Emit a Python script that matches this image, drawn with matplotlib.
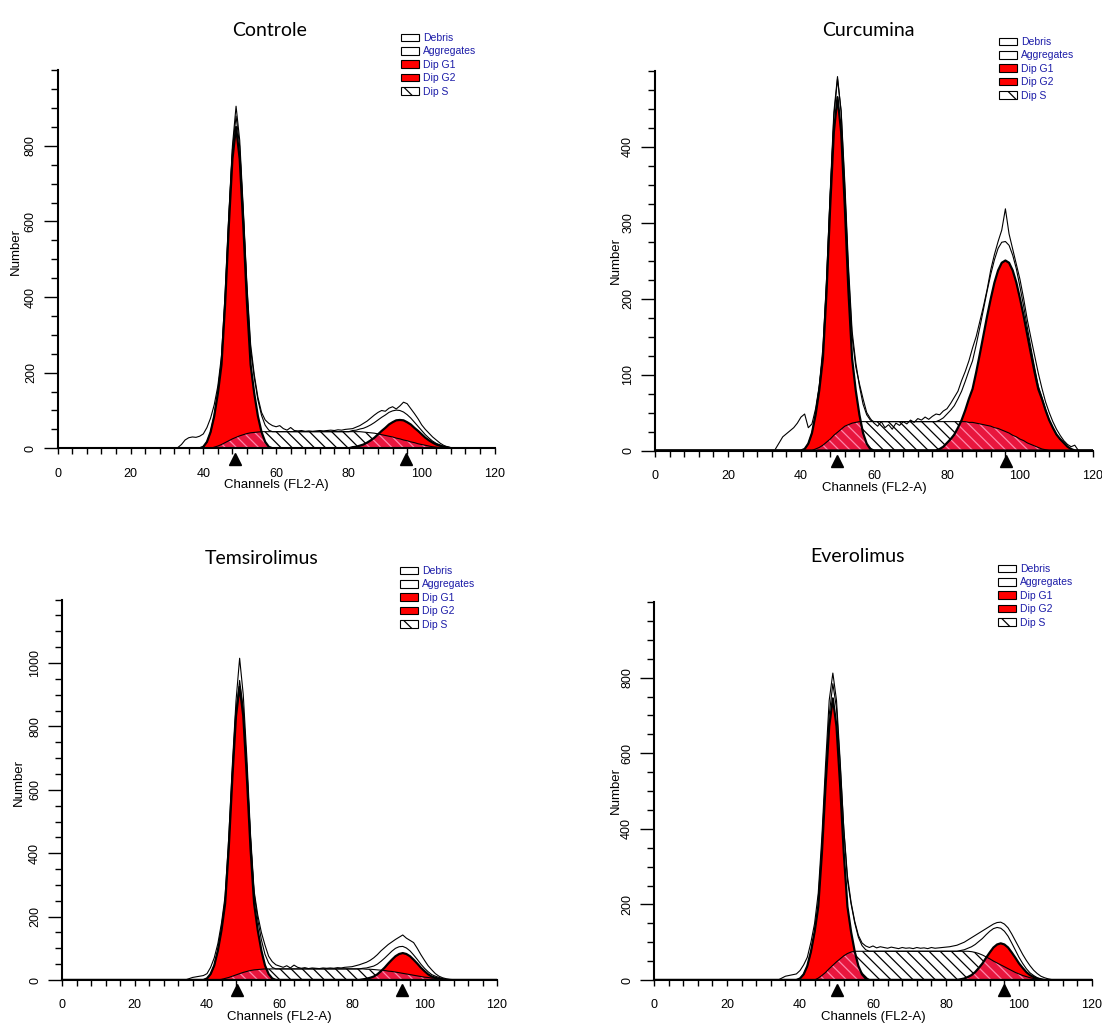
import numpy as np
import matplotlib.pyplot as plt
from matplotlib.patches import Patch
from matplotlib.ticker import MultipleLocator

plt.rcParams['font.family'] = ['Liberation Sans', 'DejaVu Sans']
plt.rcParams['hatch.linewidth'] = 0.9

# --- DATA (counts per channel) ---

channels = np.arange(0, 121)

# Controle
controle_data_start = 33
controle_data = [2, 10, 22, 28, 30, 29, 32, 38, 55, 80,
                 115, 165, 245, 410, 615, 800, 905, 815, 630, 430,
                 275, 195, 135, 95, 75, 66, 60, 57, 60, 52,
                 48, 55, 47, 46, 47, 45, 46, 45, 46, 47,
                 46, 47, 48, 47, 49, 48, 50, 51, 52, 56,
                 60, 66, 72, 80, 88, 95, 100, 98, 106, 110,
                 104, 112, 122, 118, 105, 92, 78, 62, 50, 40,
                 30, 22, 14, 8, 4, 2, 0]
controle_g1_start = 40
controle_g1 = [4, 17, 43, 85, 145, 221, 383, 587, 765, 850, 765, 587, 383, 221, 145, 85, 43, 17, 4]
controle_g2_start = 81
controle_g2 = [3, 4, 7, 10, 15, 21, 28, 37, 46, 54, 63, 69, 74, 75, 74, 69, 63, 54, 46, 37,
               28, 21, 15, 10, 7, 4, 3]
controle_s_start = 42
controle_s = [0, 3, 6, 10, 15, 20, 25, 29, 33, 36, 39, 41, 42, 43, 44,
              44, 44, 44, 44, 44, 44, 44, 44, 44, 44, 44, 44, 44, 44, 44, 44, 44, 44, 44, 44,
              44, 44, 44, 44, 44, 44, 44,
              43, 42, 41, 40, 38, 36, 34, 32, 30, 27, 25, 22, 20, 17, 15, 12, 10, 8, 6, 4,
              3, 2, 1, 0]
controle_marks = [48.7, 95.7]

# Curcumina
curcumina_data_start = 33
curcumina_data = [2, 10, 18, 22, 26, 30, 36, 44, 48, 30,
                  35, 55, 85, 135, 225, 340, 445, 492, 445, 345,
                  235, 150, 110, 88, 68, 50, 42, 36, 32, 38,
                  30, 34, 28, 36, 33, 38, 35, 40, 37, 42,
                  40, 44, 41, 45, 48, 47, 52, 55, 62, 70,
                  78, 92, 104, 118, 135, 150, 170, 190, 212, 238,
                  258, 275, 290, 318, 285, 265, 245, 225, 200, 172,
                  148, 125, 102, 82, 64, 50, 38, 28, 20, 13,
                  8, 5, 7, 0]
curcumina_g1_start = 41
curcumina_g1 = [2, 9, 23, 47, 79, 121, 209, 321, 419, 465, 419, 321, 209, 121, 79, 47, 23, 9, 2]
curcumina_g2_start = 78
curcumina_g2 = [2, 5, 10, 15, 21, 30, 40, 53, 68, 81, 103, 127, 152, 177, 200, 221, 237, 247,
                250, 247, 237, 221, 200, 177, 152, 127, 103, 81, 68, 53, 40, 30, 21, 15, 10, 5, 2]
curcumina_s_start = 43
curcumina_s = [0, 2, 4, 7, 11, 15, 20, 24, 28, 32, 34, 36, 37, 38,
               38, 38, 38, 38, 38, 38, 38, 38, 38, 38, 38, 38, 38, 38, 38, 38, 38, 38, 38, 38,
               38, 38, 38, 38, 38, 38, 38, 38,
               38, 37, 37, 36, 35, 34, 33, 32, 30,
               29, 27, 25, 23, 20, 18, 15, 13, 10, 8, 6, 4, 2, 1, 0]
curcumina_marks = [49.8, 96.3]

# Temsirolimus
temsirolimus_data_start = 34
temsirolimus_data = [0, 4, 8, 10, 12, 14, 20, 40, 70, 115,
                     180, 265, 450, 680, 880, 1015, 900, 700, 460, 280,
                     205, 150, 110, 75, 58, 48, 44, 40, 45, 38,
                     47, 40, 37, 39, 36, 38, 37, 36, 38, 37,
                     38, 37, 39, 38, 40, 41, 42, 45, 48, 52,
                     56, 62, 70, 80, 92, 102, 112, 120, 128, 135,
                     142, 132, 125, 118, 100, 80, 62, 45, 32, 20,
                     12, 7, 4, 2, 1, 0]
temsirolimus_g1_start = 40
temsirolimus_g1 = [5, 19, 46, 93, 157, 241, 416, 638, 833, 925, 833, 638, 416, 241, 157, 93, 46, 19, 5]
temsirolimus_g2_start = 83
temsirolimus_g2 = [2, 4, 7, 11, 18, 28, 39, 52, 64, 75, 82, 85, 82, 75, 64, 52, 39, 28, 18, 11, 7, 4, 2]
temsirolimus_s_start = 43
temsirolimus_s = [0, 2, 5, 8, 12, 16, 20, 24, 27, 30, 32, 33, 34,
                  35, 35, 35, 35, 35, 35, 35, 35, 35, 35, 35, 35, 35, 35, 35, 35, 35, 35, 35, 35,
                  35, 35, 35, 35, 35, 35, 35, 35,
                  34, 34, 33, 32, 31, 30, 28, 27, 25, 23, 21, 19, 17, 15, 13, 11, 9, 8, 6, 5,
                  4, 2, 1, 0]
temsirolimus_marks = [48.3, 93.7]

# Everolimus
everolimus_data_start = 34
everolimus_data = [0, 5, 10, 12, 14, 16, 25, 40, 60, 100,
                   150, 230, 380, 570, 740, 812, 740, 580, 400, 275,
                   205, 155, 118, 98, 90, 86, 90, 85, 88, 86,
                   84, 87, 85, 83, 86, 84, 85, 83, 86, 84,
                   85, 83, 86, 84, 85, 86, 87, 88, 90, 92,
                   96, 100, 106, 112, 118, 124, 130, 136, 142, 148,
                   152, 153, 148, 138, 122, 104, 86, 68, 52, 38,
                   26, 17, 10, 6, 3, 1, 0]
everolimus_g1_start = 40
everolimus_g1 = [4, 15, 37, 75, 127, 194, 335, 514, 671, 745, 671, 514, 335, 194, 127, 75, 37, 15, 4]
everolimus_g2_start = 84
everolimus_g2 = [2, 4, 8, 13, 21, 32, 44, 59, 73, 86, 94, 97, 94, 86, 73, 59, 44, 32, 21, 13, 8, 4, 2]
everolimus_s_start = 44
everolimus_s = [0, 5, 12, 20, 30, 39, 48, 56, 64, 70, 74, 76,
                76, 76, 76, 76, 76, 76, 76, 76, 76, 76, 76, 76, 76, 76, 76, 76, 76, 76, 76, 76,
                76, 76, 76, 76, 76, 76, 76, 76, 76, 76, 76,
                75, 73, 70, 66, 61, 56, 50, 45, 40, 35, 30, 25, 20, 16, 12, 9, 6, 4, 2, 0]
everolimus_marks = [50.0, 95.8]

titles = ['Controle', 'Curcumina', 'Temsirolimus', 'Everolimus']
y_max = [1000, 500, 1200, 1000]
y_major = [200, 100, 200, 200]
y_minor = [50, 25, 50, 50]
legend_labels = ['Debris', 'Aggregates', 'Dip G1', 'Dip G2', 'Dip S']

RED = '#ff0000'
OVERLAP_RED = '#e8163e'
OVERLAP_HATCH = '#ff86aa'
LEGEND_BLUE = '#1c1ca8'

W, H = 1102, 1024
fig = plt.figure(figsize=(W / 100, H / 100), dpi=100)

# layout in pixels: x at channel 0, x at channel 120, baseline y, top y
layout = [
    (57.7, 494.5, 448.3, 70.3),
    (655.0, 1093.0, 450.5, 70.5),
    (62.0, 497.0, 980.0, 599.6),
    (654.0, 1092.0, 980.0, 602.0),
]
title_pos = [(270, 30), (868, 31), (262, 559), (858, 557)]
legend_pos = [(401, 33), (999, 37), (400, 566), (998, 564)]
ylabel_pos = [(-0.082, 0.52), (-0.075, 0.5), (-0.085, 0.52), (-0.073, 0.5)]

panels = [
    (controle_data_start, controle_data, controle_g1_start, controle_g1,
     controle_g2_start, controle_g2, controle_s_start, controle_s, controle_marks),
    (curcumina_data_start, curcumina_data, curcumina_g1_start, curcumina_g1,
     curcumina_g2_start, curcumina_g2, curcumina_s_start, curcumina_s, curcumina_marks),
    (temsirolimus_data_start, temsirolimus_data, temsirolimus_g1_start, temsirolimus_g1,
     temsirolimus_g2_start, temsirolimus_g2, temsirolimus_s_start, temsirolimus_s, temsirolimus_marks),
    (everolimus_data_start, everolimus_data, everolimus_g1_start, everolimus_g1,
     everolimus_g2_start, everolimus_g2, everolimus_s_start, everolimus_s, everolimus_marks),
]


def on_grid(start, values):
    full = np.zeros(channels.size)
    full[start:start + len(values)] = values
    return full


for i, (d0, data, g10, g1, g20, g2, s0, s, marks) in enumerate(panels):
    x0, x1, yb, yt = layout[i]
    ax = fig.add_axes([x0 / W, 1 - yb / H, (x1 - x0) / W, (yb - yt) / H])

    g1f = on_grid(g10, g1)
    g2f = on_grid(g20, g2)
    sf = on_grid(s0, s)

    # S phase (hatched), then G1/G2 in red, overlap hatched in pink
    ax.fill_between(channels, 0, sf, facecolor='white', edgecolor='black',
                    hatch='\\\\\\', linewidth=0, zorder=1)
    ax.fill_between(channels, 0, g1f, facecolor=RED, linewidth=0, zorder=2)
    ax.fill_between(channels, 0, g2f, facecolor=RED, linewidth=0, zorder=2)
    for gf in (g1f, g2f):
        ax.fill_between(channels, 0, np.minimum(sf, gf), facecolor=OVERLAP_RED,
                        edgecolor=OVERLAP_HATCH, hatch='\\\\\\', linewidth=0, zorder=3)
    ax.plot(channels, sf, color='black', lw=0.8, zorder=4)
    ax.plot(channels, g1f, color='black', lw=1.6, zorder=5)
    ax.plot(channels, g2f, color='black', lw=1.6, zorder=5)

    # model sum and raw histogram
    fit = g1f + g2f + sf
    ax.plot(channels, fit, color='black', lw=0.8, zorder=6)
    ax.plot(channels[d0:d0 + len(data)], data, color='black', lw=0.8, zorder=7)

    # peak markers under the axis
    ax.plot(marks, [-0.027] * len(marks), transform=ax.get_xaxis_transform(),
            marker='^', ls='none', color='black', ms=8, clip_on=False, zorder=9)

    ax.set_xlim(0, 120)
    ax.set_ylim(0, y_max[i])
    for side in ('top', 'right'):
        ax.spines[side].set_visible(False)
    for side in ('left', 'bottom'):
        ax.spines[side].set_linewidth(1.5)
        ax.spines[side].set_zorder(8)

    ax.xaxis.set_major_locator(MultipleLocator(20))
    ax.xaxis.set_minor_locator(MultipleLocator(4))
    ax.tick_params(axis='x', which='both', direction='out', length=4, width=1,
                   pad=10, labelsize=9)
    yt_major = np.arange(0, y_max[i], y_major[i])
    ax.set_yticks(yt_major, [str(v) for v in yt_major], rotation=90, va='center')
    ax.yaxis.set_minor_locator(MultipleLocator(y_minor[i]))
    ax.tick_params(axis='y', which='major', length=10, width=1, pad=5, labelsize=9)
    ax.tick_params(axis='y', which='minor', length=5, width=1)

    ax.set_xlabel('Channels (FL2-A)', fontsize=9.5)
    ax.xaxis.set_label_coords(0.5, -0.082)
    ax.set_ylabel('Number', fontsize=9.5)
    ax.yaxis.set_label_coords(*ylabel_pos[i])

    handles = [
        Patch(facecolor='white', edgecolor='black', linewidth=0.8, label=legend_labels[0]),
        Patch(facecolor='white', edgecolor='black', linewidth=0.8, label=legend_labels[1]),
        Patch(facecolor=RED, edgecolor='black', linewidth=0.8, label=legend_labels[2]),
        Patch(facecolor=RED, edgecolor='black', linewidth=0.8, label=legend_labels[3]),
        Patch(facecolor='white', edgecolor='black', linewidth=0.8, hatch='\\\\', label=legend_labels[4]),
    ]
    lx, ly = legend_pos[i]
    ax.legend(handles=handles, loc='upper left', bbox_to_anchor=(lx / W, 1 - ly / H),
              bbox_transform=fig.transFigure, frameon=False, fontsize=7.5,
              labelcolor=LEGEND_BLUE, handlelength=1.7, handleheight=0.75,
              handletextpad=0.45, labelspacing=0.33, borderpad=0, borderaxespad=0)

    tx, ty = title_pos[i]
    fig.text(tx / W, 1 - ty / H, titles[i], ha='center', va='center',
             fontsize=14, family=['Lato', 'DejaVu Sans'])

fig.savefig('out.png', dpi=100)
